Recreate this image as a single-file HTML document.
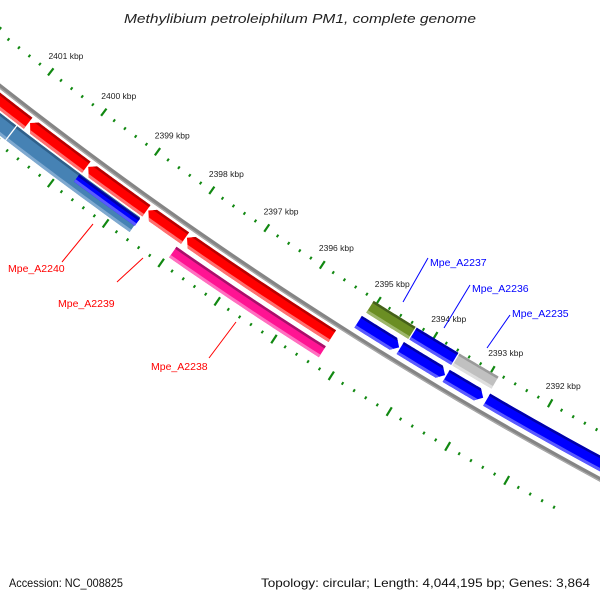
<!DOCTYPE html>
<html><head><meta charset="utf-8">
<style>
html,body{margin:0;padding:0;background:#fff;}
svg{display:block;font-family:"Liberation Sans","DejaVu Sans",sans-serif;}
</style></head>
<body>
<svg id="map" width="600" height="600" viewBox="0 0 600 600" xmlns="http://www.w3.org/2000/svg">
<rect width="600" height="600" fill="#fff"/>
<g id="ticks"></g>
<g id="backbone"></g>
<g id="feats"></g>
<g id="labels"></g>
<text x="124" y="23" textLength="352" lengthAdjust="spacingAndGlyphs" font-size="13" font-style="italic" fill="#222">Methylibium petroleiphilum PM1, complete genome</text>
<text x="9" y="587" textLength="114" lengthAdjust="spacingAndGlyphs" font-size="12" fill="#111">Accession: NC_008825</text>
<text x="261" y="587" textLength="329" lengthAdjust="spacingAndGlyphs" font-size="12" fill="#111">Topology: circular; Length: 4,044,195 bp; Genes: 3,864</text>
</svg>
<script>
// Data
const majorTicks = [2402, 2401, 2400, 2399, 2398, 2397, 2396, 2395, 2394, 2393, 2392, 2391];
const tickLabels = ["2401 kbp","2400 kbp","2399 kbp","2398 kbp","2397 kbp","2396 kbp","2395 kbp","2394 kbp","2393 kbp","2392 kbp"];
const tickLabelKbp = [2401, 2400, 2399, 2398, 2397, 2396, 2395, 2394, 2393, 2392];
const featStart = [2401.6, 2400.78, 2399.70, 2398.60, 2397.90, 2397.95, 2401.6, 2400.90, 2399.74, 2395.09, 2394.35, 2393.55, 2392.85, 2395.06, 2394.30, 2393.55];
const featEnd   = [2400.80, 2399.72, 2398.62, 2397.92, 2395.30, 2395.30, 2400.92, 2398.64, 2398.63, 2394.37, 2393.57, 2392.91, 2389.5, 2394.32, 2393.57, 2392.87];
const featTrack = ["f1","f1","f1","f1","f1","f2","f2s","f2s","f2b","r1","r1","r1","r1","r2","r2","r2"];
const featColor = ["red","red","red","red","red","pink","steel","steel","blue","blue","blue","blue","blue","olive","blue","gray"];
const featArrow = [1,1,1,1,1,0,0,0,0,-1,-1,-1,-1,0,0,0];
const labelText = ["Mpe_A2240","Mpe_A2239","Mpe_A2238","Mpe_A2237","Mpe_A2236","Mpe_A2235"];
const labelKbp  = [2399.2, 2398.2, 2396.8, 2394.7, 2393.9, 2393.2];

// Geometry
const CX=2592, CY=-3216, K0=2392, DEG=0.919, TH0=119.43;
const NS="http://www.w3.org/2000/svg";
function pt(k,r){const t=(TH0+(k-K0)*DEG)*Math.PI/180;return [CX+r*Math.cos(t), CY+r*Math.sin(t)];}
function mk(tag,attrs,parent){const e=document.createElementNS(NS,tag);for(const a in attrs)e.setAttribute(a,attrs[a]);parent.appendChild(e);return e;}
function arcPts(k1,k2,r,n){const a=[];for(let i=0;i<=n;i++){a.push(pt(k1+(k2-k1)*i/n,r));}return a;}
const tracks={f1:[4203,4217],f2:[4222,4235],f2s:[4219,4237],f2b:[4220,4229],r1:[4177,4191],r2:[4158,4172]};
const palette={
 red:["#ff0000","#b80000","#ff7070"],
 pink:["#ff1493","#a8106a","#ff70c0"],
 steel:["#4682b4","#30608a","#7fa9d0"],
 blue:["#0000ff","#0000a8","#5a5aff"],
 olive:["#6b8e23","#45601a","#9db66a"],
 gray:["#c0c0c0","#9a9a9a","#dedede"]};

// Ticks
const tg=document.getElementById('ticks');
function tick(k,r1,r2,w){const a=pt(k,r1),b=pt(k,r2);const l=mk('line',{x1:a[0],y1:a[1],x2:b[0],y2:b[1],stroke:"#118811","stroke-width":w},tg);}
for(let i=0;i<majorTicks.length-1;i++){
  const k=majorTicks[i];
  tick(k,4151,4160,2.2); tick(k,4239,4249,2.2);
  for(let j=1;j<5;j++){const km=k-j*0.2; tick(km,4154.5,4157.5,2); tick(km,4243,4246,2);}
}
tickLabels.forEach((t,i)=>{const p=pt(tickLabelKbp[i],4138);const e=mk('text',{x:p[0]-13,y:p[1]+1,"font-size":"8.5",fill:"#222"},tg);e.textContent=t;});

// Backbone
const bg=document.getElementById('backbone');
function arcPath(k1,k2,r){return arcPts(k1,k2,r,40).map((p,i)=>(i?'L':'M')+p[0].toFixed(2)+' '+p[1].toFixed(2)).join(' ');}
const bb=mk('path',{d:arcPath(2403,2389,4198),fill:"none",stroke:"#858585","stroke-width":4.5},bg);

mk('path',{d:arcPath(2403,2389,4199.5),fill:"none",stroke:"#aaaaaa","stroke-width":1.2},bg);

// Features
const fg=document.getElementById('feats');
function shape(kA,kB,r1,r2,arrow){
  const kHi=Math.max(kA,kB),kLo=Math.min(kA,kB),h=0.1,rm=(r1+r2)/2;
  let hi=kHi,lo=kLo;
  if(arrow===1)hi=kHi-h; if(arrow===-1)lo=kLo+h;
  const outer=arcPts(hi,lo,r2,30), inner=arcPts(lo,hi,r1,30);
  let pts=[...outer];
  if(arrow===-1)pts.push(pt(kLo,rm));
  pts=pts.concat(inner);
  if(arrow===1)pts.push(pt(kHi,(r1*0.6+r2*0.4)));
  return pts.map(p=>p[0].toFixed(2)+','+p[1].toFixed(2)).join(' ');
}
featStart.forEach((s,i)=>{
  const tr=tracks[featTrack[i]],c=palette[featColor[i]];
  const g=mk('g',{},fg);
  
  
  const cid='clip'+i;
  const cp=mk('clipPath',{id:cid},g);
  mk('polygon',{points:shape(s,featEnd[i],tr[0],tr[1],featArrow[i])},cp);
  mk('polygon',{points:shape(s,featEnd[i],tr[0],tr[1],featArrow[i]),fill:c[0]},g);
  const gg=mk('g',{"clip-path":"url(#"+cid+")"},g);
  mk('polygon',{points:shape(s+0.3,featEnd[i]-0.3,tr[0]-3,tr[0]+2.5,0),fill:c[1]},gg);
  mk('polygon',{points:shape(s+0.3,featEnd[i]-0.3,tr[1]-3,tr[1]+3,0),fill:c[2]},gg);
});

// Labels
const lg=document.getElementById('labels');
const labelPos=[[8,268,62,262,93,224,"red"],[58,303,117,282,143,258,"red"],[151,366,209,358,236,322,"red"],[430,262,403,302,428,258,"blue"],[472,288,444,328,470,285,"blue"],[512,313,487,348,510,315,"blue"]];
labelText.forEach((t,i)=>{
  const L=labelPos[i];
  const ln=mk('line',{x1:L[2],y1:L[3],x2:L[4],y2:L[5],stroke:L[6]==="red"?"#ff0000":"#0000ff","stroke-width":1},lg);
  
  const e=mk('text',{x:L[0],y:L[1]+4,"font-size":"10.5",fill:L[6]==="red"?"#ff0000":"#0000ff"},lg);
  e.textContent=t;
  
  
});
</script>
</body></html>
